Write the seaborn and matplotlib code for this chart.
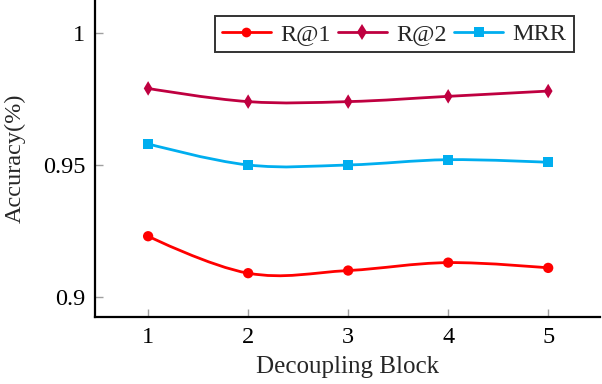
import numpy as np
import pandas as pd
import seaborn as sns
import matplotlib
matplotlib.use("Agg")
import matplotlib.pyplot as plt
from matplotlib.path import Path
from matplotlib.patches import PathPatch
from matplotlib.lines import Line2D

blocks = [1, 2, 3, 4, 5]
r1 = [0.923, 0.909, 0.910, 0.913, 0.911]
r2 = [0.979, 0.974, 0.974, 0.976, 0.978]
mrr = [0.958, 0.950, 0.950, 0.952, 0.951]
series_names = ["R@1", "R@2", "MRR"]
colors = ["#FF0000", "#BF0040", "#00AEEF"]
markers = ["o", "d", "s"]
yticks = [0.9, 0.95, 1.0]
ytick_labels = ["0.9", "0.95", "1"]

sns.set_theme(style="ticks")
plt.rcParams["font.family"] = ["Liberation Serif", "DejaVu Serif"]
plt.rcParams["mathtext.fontset"] = "stix"

df = pd.DataFrame({"block": blocks * 3,
                   "acc": r1 + r2 + mrr,
                   "series": sum([[n] * len(blocks) for n in series_names], [])})

fig = plt.figure(figsize=(6.02, 3.84), dpi=100)
ax = fig.add_axes([0.158, 0.1745, 0.839, 0.8255])


def smooth_path(xs, ys, tension=0.55):
    pts = np.column_stack([xs, ys]).astype(float)
    n = len(pts)
    verts = [pts[0]]
    codes = [Path.MOVETO]
    tang = []
    for i in range(n):
        if i == 0 or i == n - 1:
            tang.append(np.zeros(2))
        else:
            tang.append((pts[i + 1] - pts[i - 1]) * tension / 3.0)
    for i in range(n - 1):
        verts += [pts[i] + tang[i], pts[i + 1] - tang[i + 1], pts[i + 1]]
        codes += [Path.CURVE4] * 3
    return Path(verts, codes)


pal = dict(zip(series_names, colors))
mk = dict(zip(series_names, markers))
sns.scatterplot(data=df, x="block", y="acc", hue="series", style="series",
                palette=pal, markers=mk, s=55, edgecolor="none", ax=ax,
                legend=False, zorder=3)
for name, vals, c in zip(series_names, [r1, r2, mrr], colors):
    ax.add_patch(PathPatch(smooth_path(blocks, vals), facecolor="none",
                           edgecolor=c, lw=2.0, zorder=2))

ax.set_xlim(0.47, 5.52)
ax.set_ylim(0.8924, 1.0125)
ax.set_xticks(blocks)
ax.set_xticklabels([str(b) for b in blocks])
ax.set_yticks(yticks)
ax.set_yticklabels(ytick_labels)
ax.tick_params(direction="in", length=6, width=1, color="#a0a0a0",
               labelsize=17.5, pad=7, labelcolor="black")
for s in ["top", "right"]:
    ax.spines[s].set_visible(False)
for s in ["left", "bottom"]:
    ax.spines[s].set_color("black")
    ax.spines[s].set_linewidth(1.6)
ax.set_xlabel("Decoupling Block", fontsize=18, labelpad=6)
ax.set_ylabel("Accuracy(%)", fontsize=17.5, labelpad=12)

handles = [Line2D([0], [0], color=c, marker=m, lw=2, markersize=7 if m != "d" else 8,
                  markeredgewidth=0)
           for c, m in zip(colors, markers)]
leg = ax.legend(handles, series_names, loc="upper right", bbox_to_anchor=(0.948, 0.95),
                borderaxespad=0, ncol=3, fontsize=17.5, frameon=True, fancybox=False,
                edgecolor="black", handlelength=2.0, handletextpad=0.4,
                columnspacing=0.3, borderpad=0.3)
leg.get_frame().set_linewidth(1.4)

fig.savefig("out.png", dpi=100)
